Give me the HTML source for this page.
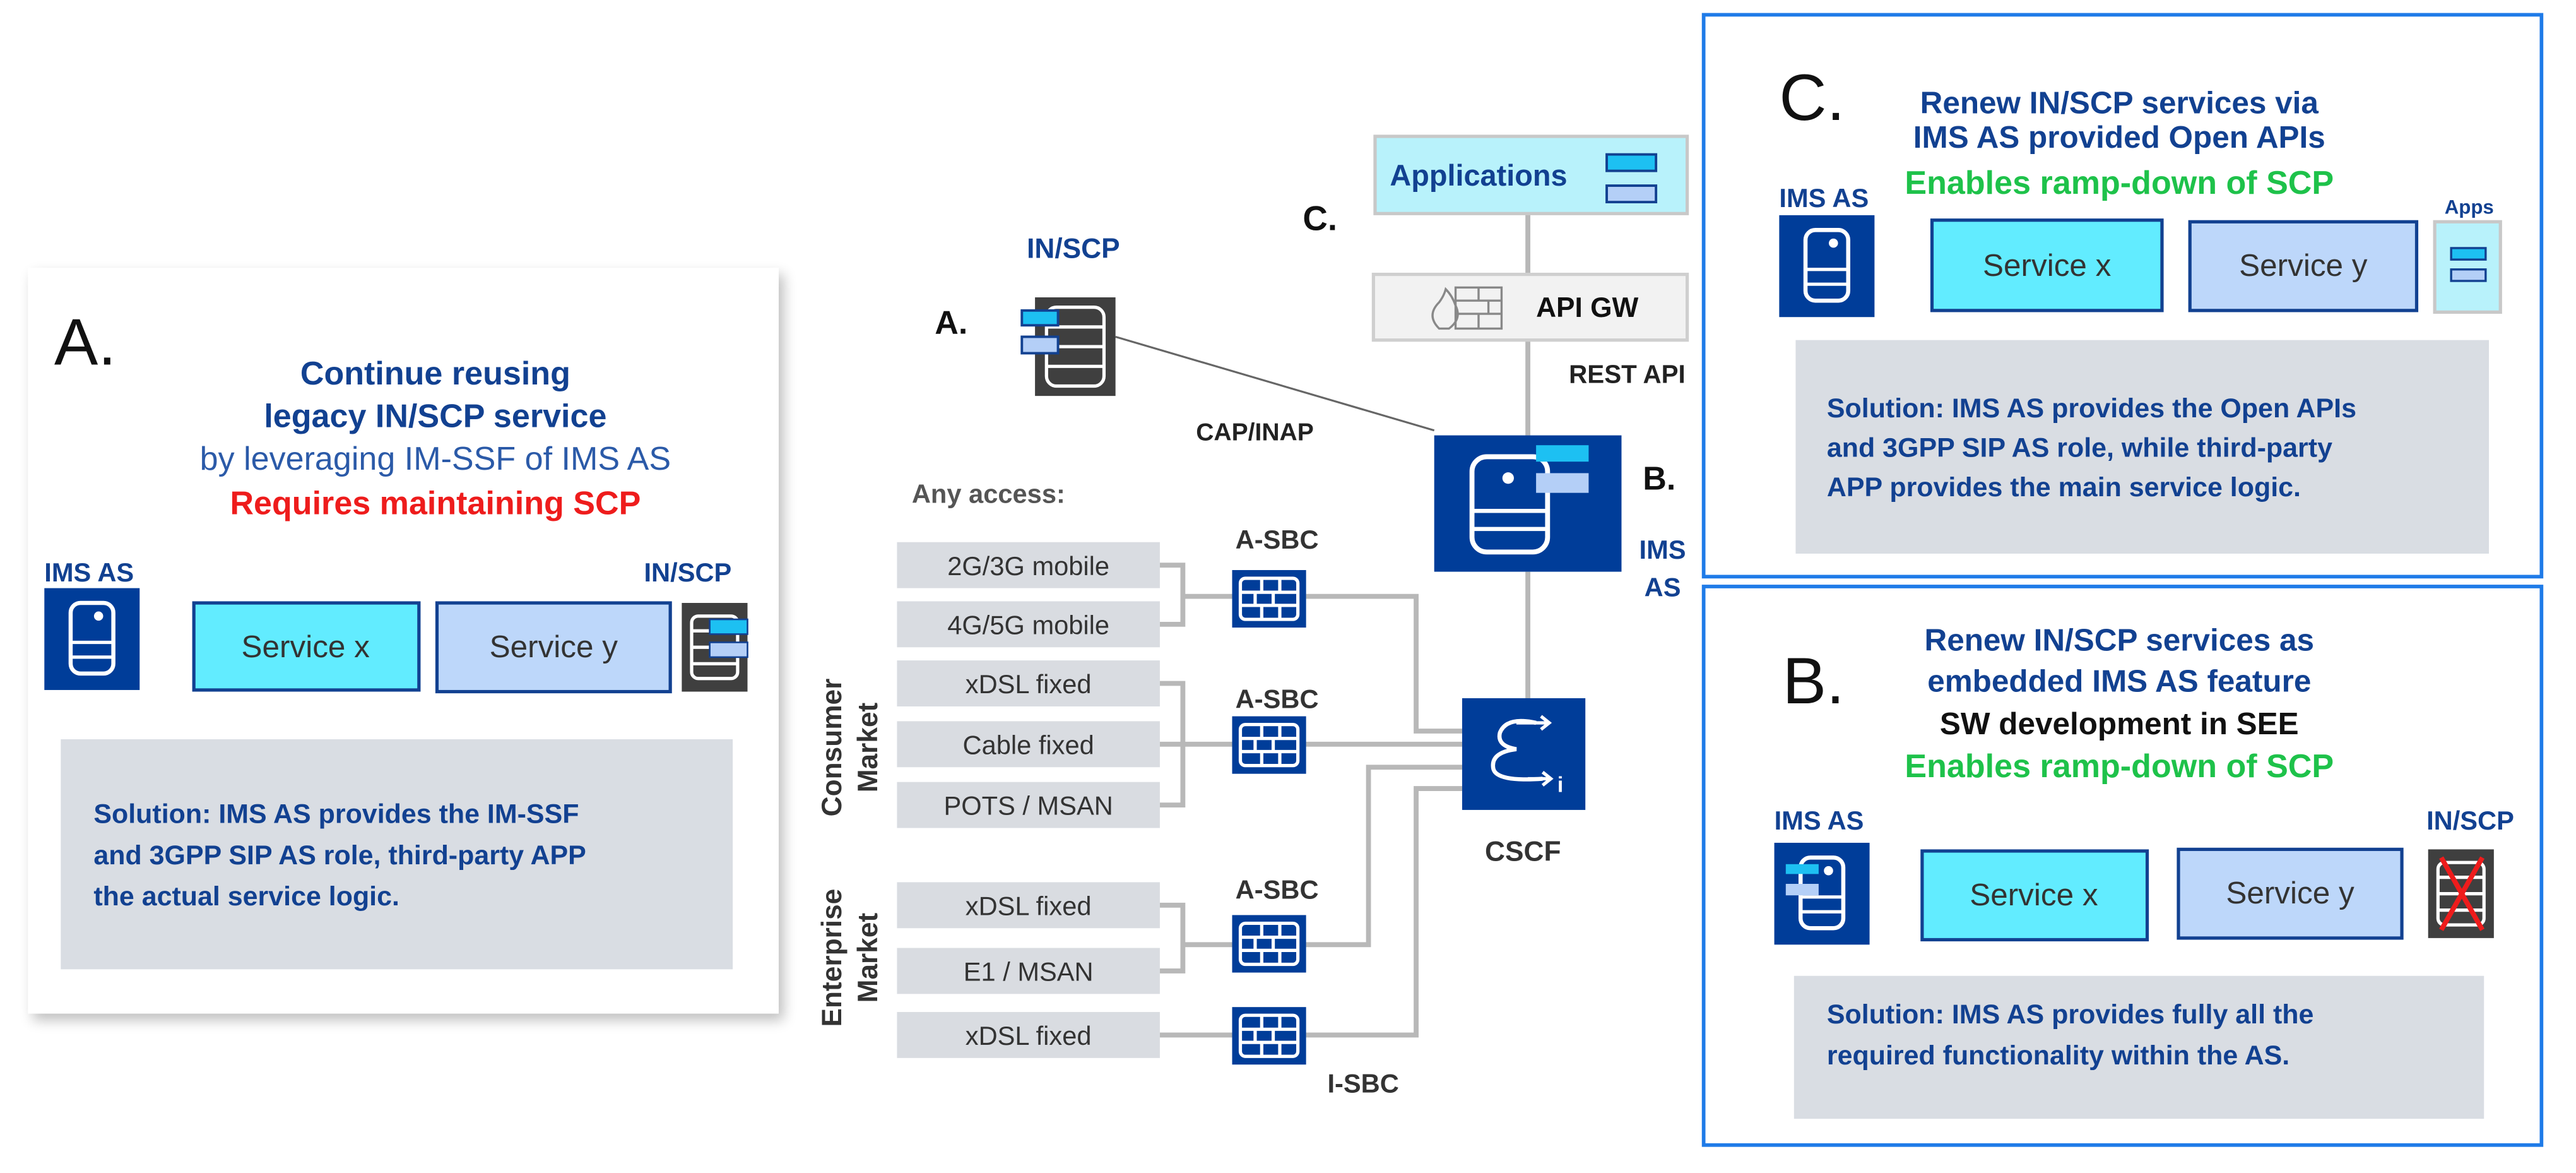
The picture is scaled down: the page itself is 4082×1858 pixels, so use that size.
<!DOCTYPE html>
<html><head><meta charset="utf-8"><style>
html,body{margin:0;padding:0;background:#fff;}
svg{display:block;}
text{font-family:"Liberation Sans",sans-serif;}
</style></head><body>
<svg width="4082" height="1858" viewBox="0 0 1568 714" preserveAspectRatio="none" xmlns="http://www.w3.org/2000/svg">
<defs>
<filter id="sh" x="-5%" y="-5%" width="110%" height="110%"><feGaussianBlur stdDeviation="4"/></filter>
<g id="srv">
<rect x="0" y="0" width="58" height="62" fill="#003d99"/>
<rect x="16" y="9" width="26" height="43" rx="6" fill="none" stroke="#fff" stroke-width="2.5"/>
<line x1="16" y1="33" x2="42" y2="33" stroke="#fff" stroke-width="2"/>
<line x1="16" y1="42" x2="42" y2="42" stroke="#fff" stroke-width="2"/>
<circle cx="33" cy="17" r="2.8" fill="#fff"/>
</g>
<g id="fw">
<rect x="0" y="0" width="45" height="35" fill="#003d99"/>
<rect x="5" y="5" width="35" height="25" rx="3" fill="none" stroke="#fff" stroke-width="2"/>
<line x1="5" y1="13.5" x2="40" y2="13.5" stroke="#fff" stroke-width="2"/>
<line x1="5" y1="21.5" x2="40" y2="21.5" stroke="#fff" stroke-width="2"/>
<line x1="18" y1="5" x2="18" y2="13.5" stroke="#fff" stroke-width="2"/>
<line x1="29" y1="5" x2="29" y2="13.5" stroke="#fff" stroke-width="2"/>
<line x1="14" y1="13.5" x2="14" y2="21.5" stroke="#fff" stroke-width="2"/>
<line x1="25" y1="13.5" x2="25" y2="21.5" stroke="#fff" stroke-width="2"/>
<line x1="18" y1="21.5" x2="18" y2="30" stroke="#fff" stroke-width="2"/>
<line x1="29" y1="21.5" x2="29" y2="30" stroke="#fff" stroke-width="2"/>
</g>
<g id="scp">
<rect x="0" y="0" width="40" height="54" fill="#3f3f3f"/>
<rect x="6" y="8" width="28" height="38" rx="4" fill="none" stroke="#fff" stroke-width="2"/>
<line x1="6" y1="17" x2="34" y2="17" stroke="#fff" stroke-width="2"/>
<line x1="6" y1="27" x2="34" y2="27" stroke="#fff" stroke-width="2"/>
<line x1="6" y1="37" x2="34" y2="37" stroke="#fff" stroke-width="2"/>
</g>
</defs>

<!-- Panel A -->
<rect x="20" y="167" width="457" height="454" fill="#000" opacity="0.25" filter="url(#sh)"/>
<rect x="17" y="163" width="457" height="454" fill="#fff"/>
<text x="33" y="222" font-size="40" fill="#111">A.</text>
<g font-size="20" text-anchor="middle" font-weight="bold" fill="#124191">
<text x="265" y="234">Continue reusing</text>
<text x="265" y="260">legacy IN/SCP service</text>
</g>
<text x="265" y="286" font-size="20" text-anchor="middle" fill="#2b5aa8">by leveraging IM-SSF of IMS AS</text>
<text x="265" y="313" font-size="20" text-anchor="middle" font-weight="bold" fill="#ee1c1c">Requires maintaining SCP</text>
<text x="27" y="354" font-size="16" font-weight="bold" fill="#124191">IMS AS</text>
<text x="392" y="354" font-size="16" font-weight="bold" fill="#124191">IN/SCP</text>
<use href="#srv" x="27" y="358"/>
<rect x="118" y="367" width="137" height="53" fill="#62ecff" stroke="#124191" stroke-width="2"/>
<text x="186" y="400" font-size="19" text-anchor="middle" fill="#333">Service x</text>
<rect x="266" y="367" width="142" height="54" fill="#bdd7fa" stroke="#124191" stroke-width="2"/>
<text x="337" y="400" font-size="19" text-anchor="middle" fill="#333">Service y</text>
<use href="#scp" x="415" y="367"/>
<rect x="432" y="377" width="23" height="9" fill="#1dc0f2" stroke="#124191"/>
<rect x="432" y="391" width="23" height="9" fill="#b4cff7" stroke="#124191"/>
<rect x="37" y="450" width="409" height="140" fill="#d9dde3"/>
<g font-size="16.5" font-weight="bold" fill="#124191">
<text x="57" y="501">Solution: IMS AS provides the IM-SSF</text>
<text x="57" y="526">and 3GPP SIP AS role, third-party APP</text>
<text x="57" y="551">the actual service logic.</text>
</g>

<!-- Middle lines -->
<g stroke="#b8b8b8" stroke-width="3" fill="none">
<line x1="930" y1="130" x2="930" y2="167"/>
<line x1="930" y1="207" x2="930" y2="265"/>
<line x1="930" y1="348" x2="930" y2="425"/>
<polyline points="706,344 720,344 720,380 706,380"/>
<line x1="720" y1="363" x2="750" y2="363"/>
<polyline points="795,363 862,363 862,445 890,445"/>
<polyline points="706,416 720,416 720,490 706,490"/>
<line x1="706" y1="453" x2="750" y2="453"/>
<line x1="795" y1="453" x2="890" y2="453"/>
<polyline points="706,551 720,551 720,591 706,591"/>
<line x1="720" y1="575" x2="750" y2="575"/>
<polyline points="795,575 833,575 833,467 890,467"/>
<line x1="706" y1="630" x2="750" y2="630"/>
<polyline points="795,630 862,630 862,480 890,480"/>
</g>
<line x1="679" y1="205" x2="873" y2="262" stroke="#666" stroke-width="1.2"/>

<!-- Applications -->
<rect x="837" y="83" width="190" height="47" fill="#b8f2fb" stroke="#c8c8c8" stroke-width="2"/>
<text x="846" y="113" font-size="18" font-weight="bold" fill="#124191">Applications</text>
<rect x="978" y="94" width="30" height="10" fill="#1dc0f2" stroke="#124191" stroke-width="1.5"/>
<rect x="978" y="113" width="30" height="10" fill="#b4cff7" stroke="#124191" stroke-width="1.5"/>
<text x="793" y="140" font-size="21" font-weight="bold" fill="#111">C.</text>
<!-- API GW -->
<rect x="836" y="167" width="191" height="40" fill="#f2f2f2" stroke="#cfcfcf" stroke-width="2"/>
<path d="M876,200 q-8,-8 0,-16 q3,-4 4,-8 q4,4 6,10 q4,8 -4,14 z" fill="none" stroke="#888" stroke-width="1.3"/>
<g stroke="#888" stroke-width="1.3" fill="none"><rect x="886" y="175" width="28" height="25"/><line x1="886" y1="183" x2="914" y2="183"/><line x1="886" y1="191" x2="914" y2="191"/><line x1="900" y1="175" x2="900" y2="183"/><line x1="906" y1="183" x2="906" y2="191"/><line x1="900" y1="191" x2="900" y2="200"/></g>
<text x="935" y="193" font-size="17" font-weight="bold" fill="#111">API GW</text>
<text x="955" y="233" font-size="15.5" font-weight="bold" fill="#222">REST API</text>
<!-- IMS AS B -->
<rect x="873" y="265" width="114" height="83" fill="#003d99"/>
<rect x="896" y="278" width="46" height="58" rx="9" fill="none" stroke="#fff" stroke-width="3"/>
<line x1="896" y1="311" x2="942" y2="311" stroke="#fff" stroke-width="2.5"/>
<line x1="896" y1="322" x2="942" y2="322" stroke="#fff" stroke-width="2.5"/>
<circle cx="918" cy="291" r="3.5" fill="#fff"/>
<rect x="935" y="271" width="32" height="10" fill="#1dc0f2"/>
<rect x="935" y="288" width="32" height="12" fill="#b4cff7"/>
<text x="1000" y="298" font-size="20" font-weight="bold" fill="#111">B.</text>
<text x="1012" y="340" font-size="16" font-weight="bold" fill="#124191" text-anchor="middle">IMS</text>
<text x="1012" y="363" font-size="16" font-weight="bold" fill="#124191" text-anchor="middle">AS</text>
<!-- IN/SCP mid -->
<text x="625" y="157" font-size="17" font-weight="bold" fill="#124191">IN/SCP</text>
<rect x="630" y="181" width="49" height="60" fill="#3f3f3f"/>
<rect x="637" y="187" width="35" height="48" rx="6" fill="none" stroke="#fff" stroke-width="2"/>
<line x1="637" y1="199" x2="672" y2="199" stroke="#fff" stroke-width="2"/>
<line x1="637" y1="211" x2="672" y2="211" stroke="#fff" stroke-width="2"/>
<line x1="637" y1="223" x2="672" y2="223" stroke="#fff" stroke-width="2"/>
<rect x="622" y="189" width="22" height="9" fill="#1dc0f2" stroke="#124191" stroke-width="1.5"/>
<rect x="622" y="205" width="22" height="10" fill="#b4cff7" stroke="#124191" stroke-width="1.5"/>
<text x="569" y="203" font-size="20" font-weight="bold" fill="#111">A.</text>
<text x="728" y="268" font-size="15" font-weight="bold" fill="#222">CAP/INAP</text>
<!-- CSCF -->
<rect x="890" y="425" width="75" height="68" fill="#003d99"/>
<path d="M935,440 q-18,-4 -22,6 q-2,8 10,10 q-16,2 -14,12 q2,8 30,6" fill="none" stroke="#fff" stroke-width="2.5"/>
<path d="M923,440 l20,0 m-5,-4 l5,4 l-5,4" fill="none" stroke="#fff" stroke-width="2"/>
<path d="M930,474 l14,0 m-5,-4 l5,4 l-5,4" fill="none" stroke="#fff" stroke-width="2"/>
<text x="948" y="482" font-size="13" font-weight="bold" fill="#fff">i</text>
<text x="927" y="524" font-size="17" font-weight="bold" fill="#333" text-anchor="middle">CSCF</text>
<!-- access -->
<text x="555" y="306" font-size="16" font-weight="bold" fill="#555">Any access:</text>
<g fill="#d9dce1">
<rect x="546" y="330" width="160" height="28"/><rect x="546" y="366" width="160" height="28"/>
<rect x="546" y="402" width="160" height="28"/><rect x="546" y="439" width="160" height="28"/>
<rect x="546" y="476" width="160" height="28"/><rect x="546" y="537" width="160" height="28"/>
<rect x="546" y="577" width="160" height="28"/><rect x="546" y="616" width="160" height="28"/>
</g>
<g font-size="16" fill="#333" text-anchor="middle">
<text x="626" y="350">2G/3G mobile</text><text x="626" y="386">4G/5G mobile</text>
<text x="626" y="422">xDSL fixed</text><text x="626" y="459">Cable fixed</text>
<text x="626" y="496">POTS / MSAN</text><text x="626" y="557">xDSL fixed</text>
<text x="626" y="597">E1 / MSAN</text><text x="626" y="636">xDSL fixed</text>
</g>
<g font-size="16" font-weight="bold" fill="#333">
<text x="752" y="334">A-SBC</text><text x="752" y="431">A-SBC</text><text x="752" y="547">A-SBC</text><text x="808" y="665">I-SBC</text>
</g>
<use href="#fw" x="750" y="347"/><use href="#fw" x="750" y="436"/>
<use href="#fw" x="750" y="557"/><use href="#fw" x="750" y="613"/>
<g font-size="17" font-weight="bold" fill="#333" text-anchor="middle">
<text transform="translate(512,455) rotate(-90)">Consumer</text>
<text transform="translate(534,455) rotate(-90)">Market</text>
<text transform="translate(512,583) rotate(-90)">Enterprise</text>
<text transform="translate(534,583) rotate(-90)">Market</text>
</g>

<!-- Panel C -->
<rect x="1037" y="9" width="510" height="342" fill="#fff" stroke="#1f7be8" stroke-width="2.2"/>
<text x="1083" y="73" font-size="40" fill="#111">C.</text>
<g font-size="19" font-weight="bold" fill="#124191" text-anchor="middle">
<text x="1290" y="69">Renew IN/SCP services via</text>
<text x="1290" y="90">IMS AS provided Open APIs</text>
</g>
<text x="1290" y="118" font-size="20" font-weight="bold" fill="#1ec24a" text-anchor="middle">Enables ramp-down of SCP</text>
<text x="1083" y="126" font-size="16" font-weight="bold" fill="#124191">IMS AS</text>
<text x="1488" y="130" font-size="12" font-weight="bold" fill="#124191">Apps</text>
<use href="#srv" x="1083" y="131"/>
<rect x="1176" y="134" width="140" height="55" fill="#62ecff" stroke="#124191" stroke-width="2"/>
<text x="1246" y="168" font-size="19" text-anchor="middle" fill="#333">Service x</text>
<rect x="1333" y="135" width="138" height="54" fill="#bdd7fa" stroke="#124191" stroke-width="2"/>
<text x="1402" y="168" font-size="19" text-anchor="middle" fill="#333">Service y</text>
<rect x="1482" y="135" width="40" height="55" fill="#b8f2fb" stroke="#c8c8c8" stroke-width="2"/>
<rect x="1492" y="151" width="21" height="7" fill="#1dc0f2" stroke="#124191" stroke-width="1.3"/>
<rect x="1492" y="164" width="21" height="7" fill="#b4cff7" stroke="#124191" stroke-width="1.3"/>
<rect x="1093" y="207" width="422" height="130" fill="#d9dde3"/>
<g font-size="16.5" font-weight="bold" fill="#124191">
<text x="1112" y="254">Solution: IMS AS provides the Open APIs</text>
<text x="1112" y="278">and 3GPP SIP AS role, while third-party</text>
<text x="1112" y="302">APP provides the main service logic.</text>
</g>

<!-- Panel B -->
<rect x="1037" y="357" width="510" height="340" fill="#fff" stroke="#1f7be8" stroke-width="2.2"/>
<text x="1085" y="428" font-size="40" fill="#111">B.</text>
<g font-size="19" font-weight="bold" text-anchor="middle">
<text x="1290" y="396" fill="#124191">Renew IN/SCP services as</text>
<text x="1290" y="421" fill="#124191">embedded IMS AS feature</text>
<text x="1290" y="447" fill="#111">SW development in SEE</text>
</g>
<text x="1290" y="473" font-size="20" font-weight="bold" fill="#1ec24a" text-anchor="middle">Enables ramp-down of SCP</text>
<text x="1080" y="505" font-size="16" font-weight="bold" fill="#124191">IMS AS</text>
<text x="1477" y="505" font-size="16" font-weight="bold" fill="#124191">IN/SCP</text>
<use href="#srv" x="1080" y="513"/>
<rect x="1087" y="526" width="20" height="6" fill="#1dc0f2"/>
<rect x="1087" y="538" width="20" height="7" fill="#b4cff7"/>
<rect x="1170" y="518" width="137" height="54" fill="#62ecff" stroke="#124191" stroke-width="2"/>
<text x="1238" y="551" font-size="19" text-anchor="middle" fill="#333">Service x</text>
<rect x="1326" y="517" width="136" height="54" fill="#bdd7fa" stroke="#124191" stroke-width="2"/>
<text x="1394" y="550" font-size="19" text-anchor="middle" fill="#333">Service y</text>
<use href="#scp" x="1478" y="517"/>
<line x1="1486" y1="522" x2="1511" y2="566" stroke="#ee1c1c" stroke-width="3"/>
<line x1="1511" y1="522" x2="1486" y2="566" stroke="#ee1c1c" stroke-width="3"/>
<rect x="1092" y="594" width="420" height="87" fill="#d9dde3"/>
<g font-size="16.5" font-weight="bold" fill="#124191">
<text x="1112" y="623">Solution: IMS AS provides fully all the</text>
<text x="1112" y="648">required functionality within the AS.</text>
</g>
</svg>
</body></html>
